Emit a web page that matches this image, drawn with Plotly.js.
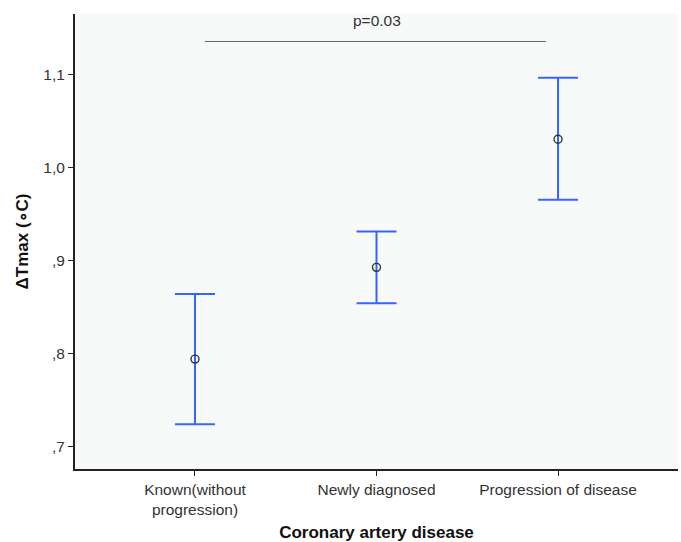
<!DOCTYPE html>
<html>
<head>
<meta charset="utf-8">
<script src="https://cdn.plot.ly/plotly-3.0.1.min.js"></script>
<style>html,body{margin:0;padding:0;background:#fff;}#chart{width:681px;height:542px;}</style>
</head>
<body>
<div id="chart"></div>
<script>
const categories = ["Known(without<br>progression)", "Newly diagnosed", "Progression of disease"];
const means = [0.794, 0.8925, 1.030];
const upper = [0.864, 0.931, 1.096];
const lower = [0.724, 0.854, 0.965];
const yTickVals = [0.7, 0.8, 0.9, 1.0, 1.1];
const yTickText = [",7", ",8", ",9", "1,0", "1,1"];
const pLabel = "p=0.03";

const xIdx = categories.map((c, i) => i);
const trace = {
  x: xIdx,
  y: means,
  type: "scatter",
  mode: "markers",
  marker: {symbol: "circle-open", size: 8, color: "#333333", line: {width: 1.4, color: "#333333"}},
  error_y: {
    type: "data",
    symmetric: false,
    array: upper.map((u, i) => u - means[i]),
    arrayminus: means.map((m, i) => m - lower[i]),
    color: "#3366FF",
    thickness: 2,
    width: 20
  },
  hoverinfo: "none",
  showlegend: false
};

const layout = {
  width: 681, height: 542,
  margin: {l: 75, r: 3, t: 14, b: 73},
  paper_bgcolor: "#ffffff",
  plot_bgcolor: "#F8F9F9",
  font: {family: "Liberation Sans, Arial, sans-serif", color: "#333333", size: 16},
  xaxis: {
    range: [-0.661, 2.661],
    tickvals: xIdx,
    ticktext: categories,
    showgrid: false, zeroline: false,
    showline: true, linecolor: "#222222", linewidth: 2,
    ticks: "outside", ticklen: 5, tickcolor: "#222222", tickwidth: 1,
    tickfont: {size: 15.5, color: "#333333"},
    title: {text: "<b>Coronary artery disease</b>", font: {size: 17, color: "#111111"}, standoff: 10}
  },
  yaxis: {
    range: [0.676, 1.1645],
    tickvals: yTickVals,
    ticktext: yTickText,
    showgrid: false, zeroline: false,
    showline: true, linecolor: "#222222", linewidth: 2,
    ticks: "outside", ticklen: 5, tickcolor: "#222222", tickwidth: 1,
    tickfont: {size: 15.5, color: "#333333"},
    title: {text: "<b>ΔTmax (∘C)</b>", font: {size: 17, color: "#111111"}, standoff: 10}
  },
  shapes: [{
    type: "line", xref: "x", yref: "y",
    x0: 0.055, x1: 1.934, y0: 1.135, y1: 1.135,
    line: {color: "#666666", width: 1}
  }],
  annotations: [{
    x: 1, y: 1.158, xref: "x", yref: "y",
    text: pLabel, showarrow: false,
    font: {size: 15.5, color: "#333333"}
  }]
};

Plotly.newPlot("chart", [trace], layout, {displayModeBar: false, staticPlot: true});
</script>
</body>
</html>
